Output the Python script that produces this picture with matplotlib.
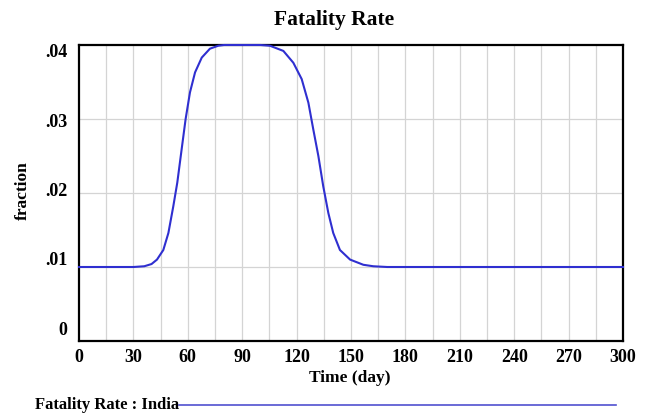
import matplotlib
matplotlib.use("Agg")
import matplotlib.pyplot as plt

plt.rcParams['font.family'] = ['Liberation Serif', 'DejaVu Serif']

# Data
time_day = [0, 30, 36, 40, 43, 46.5, 49.3, 52, 54.2, 56.6, 58.8, 61.2, 64, 67.7,
            72.2, 76.8, 80, 100, 105.3, 112.7, 118.2, 122.8, 126.5, 129.2, 132,
            134.7, 137.5, 140.2, 143.9, 149.5, 156.8, 162.3, 170, 300]
fatality_rate = [0.01, 0.01, 0.0101, 0.0104, 0.011, 0.0123, 0.0146, 0.0182, 0.0214,
                 0.0259, 0.030, 0.0336, 0.0363, 0.0383, 0.0395, 0.0399, 0.04, 0.04,
                 0.0399, 0.0392, 0.0376, 0.0354, 0.0322, 0.0286, 0.025, 0.0209,
                 0.0173, 0.0146, 0.0123, 0.011, 0.0103, 0.0101, 0.01, 0.01]

x_ticks = [0, 30, 60, 90, 120, 150, 180, 210, 240, 270, 300]
x_grid = list(range(15, 300, 15))
y_grid = [0.01, 0.02, 0.03]
y_tick_values = [0, 0.01, 0.02, 0.03, 0.04]
y_tick_labels = ["0", ".01", ".02", ".03", ".04"]

fig = plt.figure(figsize=(6.48, 4.17), dpi=100)
ax = fig.add_axes([79/648, 1-341/417, (623-79)/648, (341-45)/417])

ax.plot(time_day, fatality_rate, color='#2f2fd0', lw=1.5, zorder=3, clip_on=False,
        solid_joinstyle='round')

ax.set_xlim(0, 300)
ax.set_ylim(0, 0.04)
for g in x_grid:
    ax.axvline(g, color='#d4d4d4', lw=0.9, zorder=1)
for g in y_grid:
    ax.axhline(g, color='#d4d4d4', lw=0.9, zorder=1)

ax.set_xticks(x_ticks)
ax.set_xticklabels([str(t) for t in x_ticks], fontsize=13, fontweight='bold')
ax.tick_params(axis='x', length=0, pad=6)
ax.set_yticks([])

# Vensim-style y labels spread evenly inside the axis height
n = len(y_tick_labels)
for i, lab in enumerate(y_tick_labels):
    frac = 0.037 + i * (0.973 - 0.037) / (n - 1)
    ax.text(-0.022, frac, lab, transform=ax.transAxes, ha='right', va='center',
            fontsize=13, fontweight='bold')

for s in ax.spines.values():
    s.set_linewidth(1.6)
    s.set_color('black')

fig.text(334/648, 1-20/417, "Fatality Rate", ha='center', va='center',
         fontsize=15.5, fontweight='bold')
fig.text(350/648, 1-378/417, "Time (day)", ha='center', va='center',
         fontsize=12.5, fontweight='bold')
fig.text(23/648, 1-191/417, "fraction", ha='center', va='center',
         rotation=90, fontsize=12.5, fontweight='bold')

# Legend
fig.text(35/648, 1-405/417, "Fatality Rate : India", ha='left', va='center',
         fontsize=12, fontweight='bold')
fig.add_artist(plt.Line2D([179/648, 616/648], [1-405/417, 1-405/417],
                          color='#5050d0', lw=1.2, transform=fig.transFigure))

fig.savefig("out.png", dpi=100)
